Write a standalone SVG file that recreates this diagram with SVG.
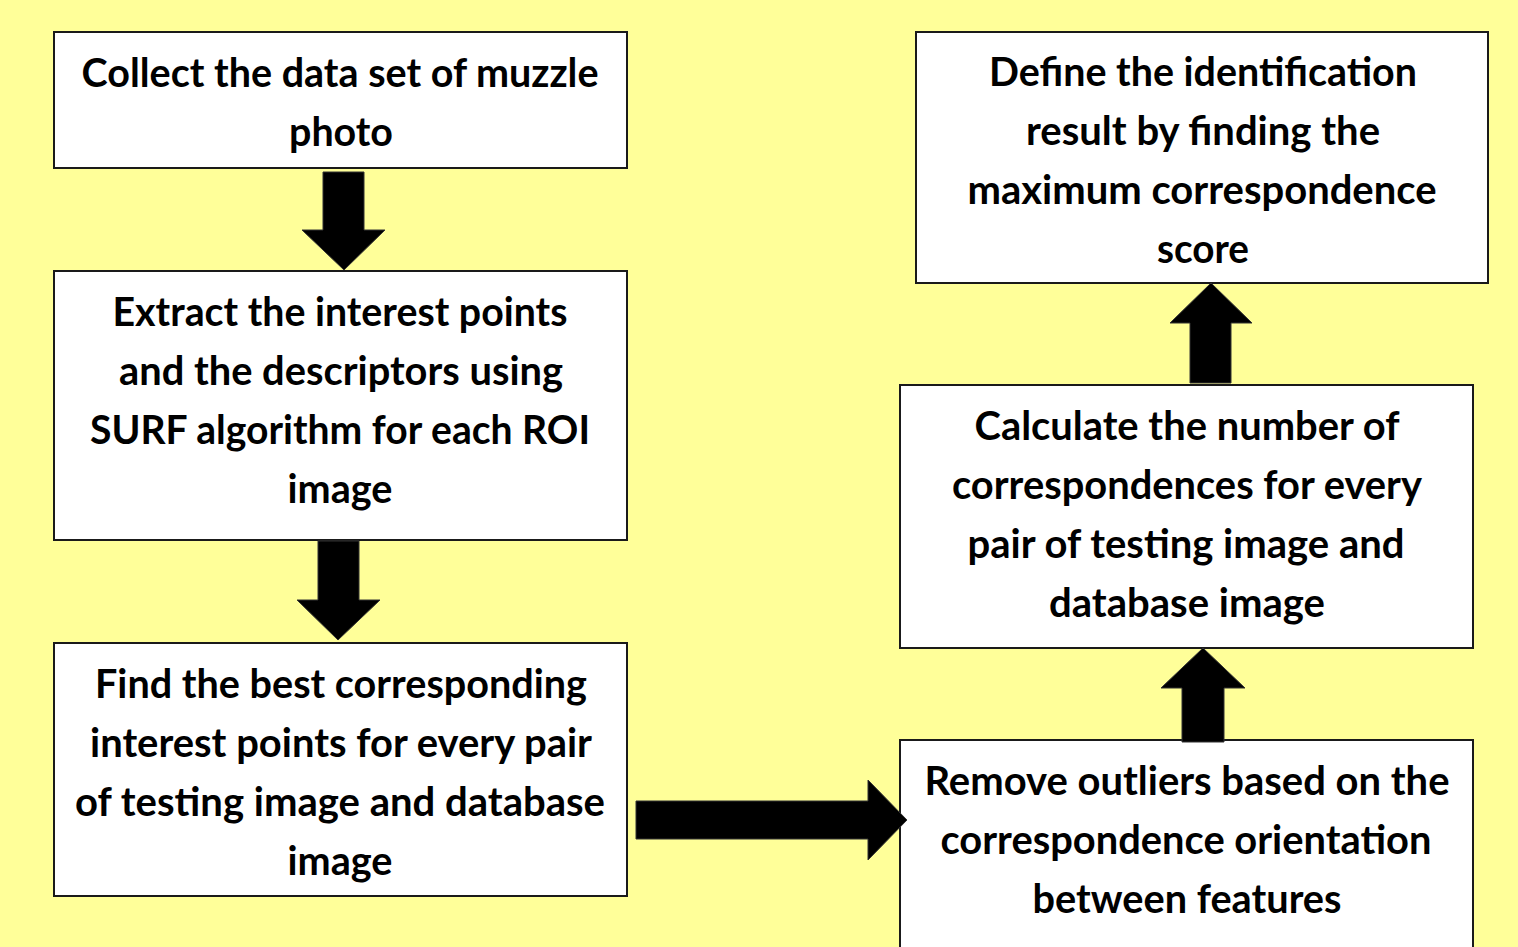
<svg xmlns="http://www.w3.org/2000/svg" width="1518" height="947" viewBox="0 0 1518 947">
<style>
.box{fill:#ffffff;stroke:#1a1a1a;stroke-width:2}
.t{font-family:Lato,"Open Sans","Liberation Sans",sans-serif;font-weight:bold;font-size:40px;fill:#000;text-anchor:middle}
.arr{fill:#000;stroke:#333;stroke-width:1}
</style>
<rect x="0" y="0" width="1518" height="947" fill="#ffff99"/>
<g id="n1">
<rect class="box" x="54" y="32" width="573" height="136"/>
<text class="t" x="340" y="87" textLength="517" lengthAdjust="spacingAndGlyphs">Collect the data set of muzzle</text>
<text class="t" x="341" y="146" textLength="104" lengthAdjust="spacingAndGlyphs">photo</text>
</g>
<g id="n2">
<rect class="box" x="54" y="271" width="573" height="269"/>
<text class="t" x="340" y="326" textLength="455" lengthAdjust="spacingAndGlyphs">Extract the interest points</text>
<text class="t" x="341" y="385" textLength="444" lengthAdjust="spacingAndGlyphs">and the descriptors using</text>
<text class="t" x="340" y="444" textLength="500" lengthAdjust="spacingAndGlyphs">SURF algorithm for each ROI</text>
<text class="t" x="340" y="503" textLength="105" lengthAdjust="spacingAndGlyphs">image</text>
</g>
<g id="n3">
<rect class="box" x="54" y="643" width="573" height="253"/>
<text class="t" x="341" y="698" textLength="492" lengthAdjust="spacingAndGlyphs">Find the best corresponding</text>
<text class="t" x="341" y="757" textLength="502" lengthAdjust="spacingAndGlyphs">interest points for every pair</text>
<text class="t" x="340" y="816" textLength="530" lengthAdjust="spacingAndGlyphs">of testing image and database</text>
<text class="t" x="340" y="875" textLength="105" lengthAdjust="spacingAndGlyphs">image</text>
</g>
<g id="n4">
<rect class="box" x="916" y="32" width="572" height="251"/>
<text class="t" x="1203" y="86" textLength="428" lengthAdjust="spacingAndGlyphs">Define the identification</text>
<text class="t" x="1203" y="145" textLength="354" lengthAdjust="spacingAndGlyphs">result by finding the</text>
<text class="t" x="1202" y="204" textLength="469" lengthAdjust="spacingAndGlyphs">maximum correspondence</text>
<text class="t" x="1203" y="263" textLength="92" lengthAdjust="spacingAndGlyphs">score</text>
</g>
<g id="n5">
<rect class="box" x="900" y="385" width="573" height="263"/>
<text class="t" x="1187" y="440" textLength="425" lengthAdjust="spacingAndGlyphs">Calculate the number of</text>
<text class="t" x="1187" y="499" textLength="470" lengthAdjust="spacingAndGlyphs">correspondences for every</text>
<text class="t" x="1186" y="558" textLength="437" lengthAdjust="spacingAndGlyphs">pair of testing image and</text>
<text class="t" x="1187" y="617" textLength="276" lengthAdjust="spacingAndGlyphs">database image</text>
</g>
<g id="n6">
<rect class="box" x="900" y="740" width="573" height="220"/>
<text class="t" x="1187" y="795" textLength="525" lengthAdjust="spacingAndGlyphs">Remove outliers based on the</text>
<text class="t" x="1186" y="854" textLength="491" lengthAdjust="spacingAndGlyphs">correspondence orientation</text>
<text class="t" x="1187" y="913" textLength="309" lengthAdjust="spacingAndGlyphs">between features</text>
</g>
<g id="connectors">
<polygon class="arr" points="323,172 364,172 364,230 385,230 344,270 302,230 323,230"/>
<polygon class="arr" points="318,541 359,541 359,600 380,600 338,640 297,600 318,600"/>
<polygon class="arr" points="636,801 868,801 868,780 907,820 868,860 868,839 636,839"/>
<polygon class="arr" points="1182,742 1224,742 1224,688 1245,688 1203,648 1161,688 1182,688"/>
<polygon class="arr" points="1190,383 1231,383 1231,323 1252,323 1211,283 1170,323 1190,323"/>
</g>
</svg>
